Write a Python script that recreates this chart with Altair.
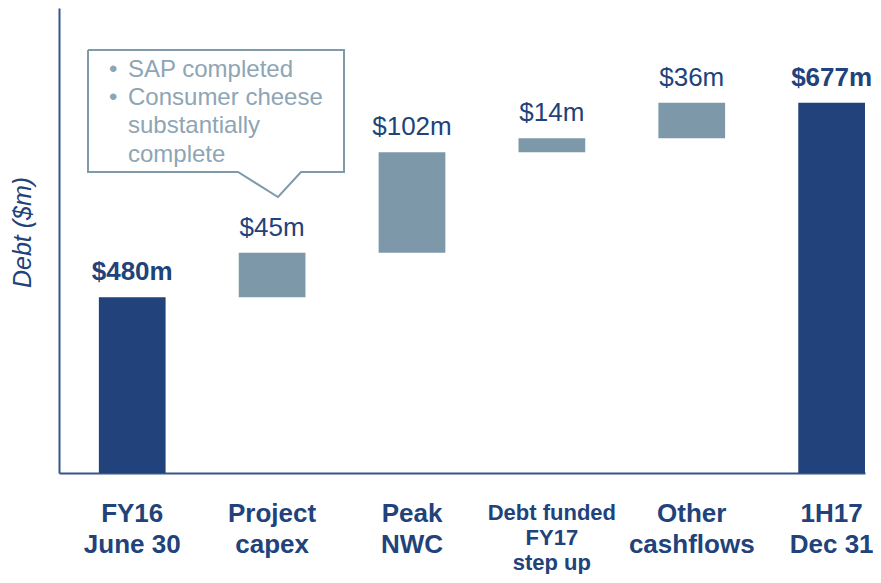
import altair as alt
import pandas as pd

# ---- data ----
categories = ["FY16|June 30", "Project|capex", "Peak|NWC",
              "Debt funded|FY17|step up", "Other|cashflows", "1H17|Dec 31"]
amounts = [480, 45, 102, 14, 36, 677]
kinds = ["total", "delta", "delta", "delta", "delta", "total"]
value_labels = ["$480m", "$45m", "$102m", "$14m", "$36m", "$677m"]

# callout annotation (pixel positions inside the plot area)
callout_x = [29, 285, 285, 242, 219, 179, 29, 29]
callout_y = [42, 42, 164, 164, 189, 164, 164, 42]
note_text = ["•", "SAP completed", "•", "Consumer cheese", "substantially", "complete"]
note_x = [50, 69, 50, 69, 69, 69]
note_y = [69, 69, 97, 97, 125, 154]

# ---- build waterfall table ----
rows = []
running = 0
for c, a, k, l in zip(categories, amounts, kinds, value_labels):
    if k == "total":
        start, end = 0, a
        running = a
    else:
        start, end = running, running + a
        running = end
    rows.append(dict(cat=c, start=start, end=end, kind=k, label=l,
                     small=c.startswith("Debt")))
df = pd.DataFrame(rows)

callout_df = pd.DataFrame({"i": list(range(len(callout_x))), "px": callout_x, "py": callout_y})
note_df = pd.DataFrame({"t": note_text, "px": note_x, "py": note_y})

NAVY = "#21427A"
STEEL = "#7D98A9"
NOTE = "#8DA5B5"
BOX = "#7F9AAB"
AXIS = "#35568C"
FONT = "Liberation Sans"
H = 465
W = 806

def xs():
    return alt.Scale(type="band", domain=categories, paddingInner=0.523,
                     paddingOuter=0.1425, align=1)

yscale = alt.Scale(domain=[302, 773], clamp=True, nice=False, zero=False)

xaxis = alt.Axis(title=None, ticks=False, labels=False, grid=False,
                 domainColor=AXIS, domainWidth=2)
yaxis = alt.Axis(
    title="Debt ($m)", labels=False, ticks=False, grid=False,
    domainColor=AXIS, domainWidth=2,
    titleFont=FONT, titleFontSize=25, titleFontStyle="italic",
    titleFontWeight="normal", titleColor=NAVY,
    titleX=-29, titleY=224, titleAlign="center", titleBaseline="alphabetic",
    titleAngle=270,
)

base = alt.Chart(df)

bars = base.mark_bar().encode(
    x=alt.X("cat:N", sort=categories, scale=xs(), axis=xaxis),
    y=alt.Y("start:Q", scale=yscale, axis=yaxis),
    y2="end:Q",
    color=alt.Color("kind:N", scale=alt.Scale(domain=["total", "delta"], range=[NAVY, STEEL]), legend=None),
)

def value_text(kind, weight):
    return base.transform_filter(f"datum.kind == '{kind}'").mark_text(
        font=FONT, fontSize=26, fontWeight=weight, color=NAVY,
        baseline="alphabetic", dy=-17,
    ).encode(
        x=alt.X("cat:N", sort=categories, scale=xs(), axis=None),
        y=alt.Y("end:Q", scale=yscale, axis=None),
        text="label:N",
    )

tot_text = value_text("total", "bold")
delta_text = value_text("delta", "normal")

cat_text_main = base.transform_filter("!datum.small").mark_text(
    font=FONT, fontSize=26, fontWeight="bold", color=NAVY,
    baseline="top", lineBreak="|", lineHeight=31,
).encode(
    x=alt.X("cat:N", sort=categories, scale=xs(), axis=None),
    y=alt.value(H + 28),
    text="cat:N",
)

cat_text_small = base.transform_filter("datum.small").mark_text(
    font=FONT, fontSize=22, fontWeight="bold", color=NAVY,
    baseline="top", lineBreak="|", lineHeight=25,
).encode(
    x=alt.X("cat:N", sort=categories, scale=xs(), axis=None),
    y=alt.value(H + 30),
    text="cat:N",
)

callout = alt.Chart(callout_df).mark_line(color=BOX, strokeWidth=2, strokeJoin="miter").encode(
    x=alt.X("px:Q", scale=None, axis=None),
    y=alt.Y("py:Q", scale=None, axis=None),
    order="i:Q",
)

notes = alt.Chart(note_df).mark_text(
    font=FONT, fontSize=24, color=NOTE, align="left", baseline="alphabetic",
).encode(
    x=alt.X("px:Q", scale=None, axis=None),
    y=alt.Y("py:Q", scale=None, axis=None),
    text="t:N",
)

chart = alt.layer(bars, tot_text, delta_text, cat_text_main, cat_text_small,
                  callout, notes).resolve_scale(
    x="independent", y="independent"
).properties(
    width=W, height=H,
    autosize=alt.AutoSizeParams(type="none"),
    padding={"left": 51, "top": 0, "right": 8, "bottom": 101},
    background="white",
).configure_view(stroke=None)

chart.save("out.html", embed_options={"renderer": "svg", "actions": False})
